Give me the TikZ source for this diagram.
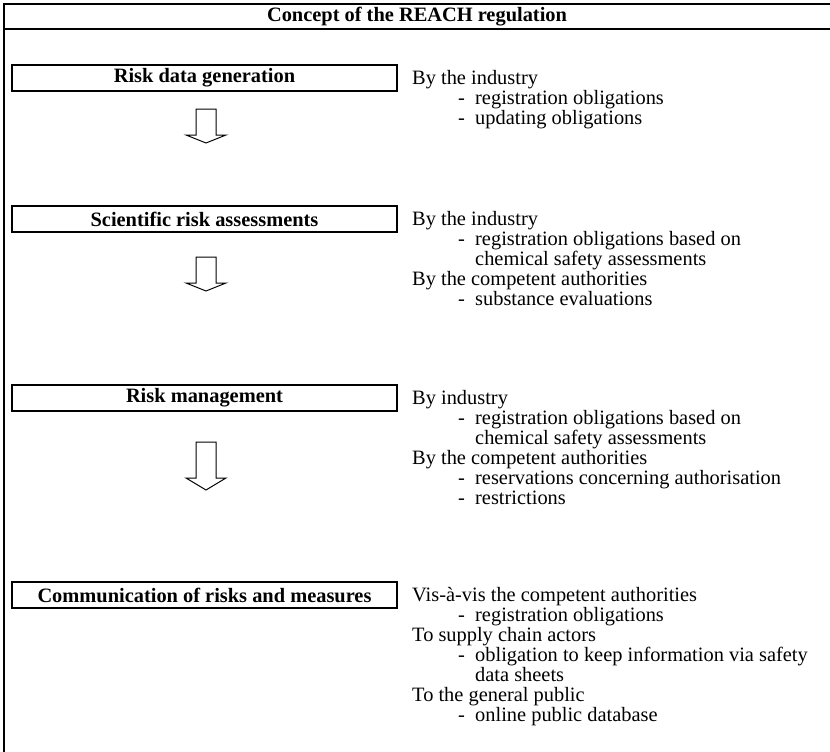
\documentclass[tikz,border=0pt]{standalone}
\usepackage{fontspec}
\setmainfont{Liberation Serif}
\newcommand\bodyfont{\fontsize{20.4}{20}\selectfont}
\newcommand\labelfont{\fontsize{20.4}{20}\selectfont\bfseries}
\newcommand\DownArrow[3]{\draw[blockarrow] (196,#1) -- (216,#1) -- (216,#2) -- (226,#2) -- (206,#3) -- (186,#2) -- (196,#2) -- cycle;}
\newcommand\HeadLine[3]{\node[txt] (#1) at (412,#2) {#3};}
\newcommand\ContLine[3]{\node[txt] (#1) at (475,#2) {#3};}
\newcommand\DashLine[3]{\node[txt] (#1d) at (458,#2) {-};\node[txt] (#1) at (475,#2) {#3};}
\begin{document}
\begin{tikzpicture}[x=1pt,y=-1pt,
  frame/.style={line width=1.3pt},
  stepbox/.style={draw, line width=1.3pt, minimum width=385pt, minimum height=26pt, inner sep=0pt, font=\labelfont},
  txt/.style={anchor=base west, inner sep=0pt, font=\bodyfont},
  blockarrow/.style={draw, line width=1pt, line join=miter, fill=white}]
\useasboundingbox (0,0) rectangle (830,752);
% frame
\coordinate (tl) at (4,4);
\coordinate (tr) at (830,4);
\coordinate (hl) at (4,29);
\coordinate (hr) at (830,29);
\coordinate (bl) at (4,752);
\draw[frame] (tr) -- (tl) -- (bl);
\draw[frame] (hl) -- (hr);
\node[font=\labelfont, inner sep=0pt] (title) at (417,16.5) {Concept of the REACH regulation};
% step boxes
\node[stepbox] (b1) at (204.5,78) {Risk data generation};
\node[stepbox] (b2) at (204.5,219) {Scientific risk assessments};
\node[stepbox] (b3) at (204.5,398) {Risk management};
\node[stepbox] (b4) at (204.5,595) {Communication of risks and measures};
% block arrows
\DownArrow{109}{135}{143}
\DownArrow{257}{283}{291}
\DownArrow{442}{478}{490}
% section 1
\HeadLine{s1a}{84.5}{By the industry}
\DashLine{s1b}{104.5}{registration obligations}
\DashLine{s1c}{124.5}{updating obligations}
% section 2
\HeadLine{s2a}{225.5}{By the industry}
\DashLine{s2b}{245.5}{registration obligations based on}
\ContLine{s2c}{265.5}{chemical safety assessments}
\HeadLine{s2d}{285.5}{By the competent authorities}
\DashLine{s2e}{305.5}{substance evaluations}
% section 3
\HeadLine{s3a}{404.5}{By industry}
\DashLine{s3b}{424.5}{registration obligations based on}
\ContLine{s3c}{444.5}{chemical safety assessments}
\HeadLine{s3d}{464.5}{By the competent authorities}
\DashLine{s3e}{484.5}{reservations concerning authorisation}
\DashLine{s3f}{504.5}{restrictions}
% section 4
\HeadLine{s4a}{601.5}{Vis-à-vis the competent authorities}
\DashLine{s4b}{621.5}{registration obligations}
\HeadLine{s4c}{641.5}{To supply chain actors}
\DashLine{s4d}{661.5}{obligation to keep information via safety}
\ContLine{s4e}{681.5}{data sheets}
\HeadLine{s4f}{701.5}{To the general public}
\DashLine{s4g}{721.5}{online public database}
\end{tikzpicture}
\end{document}
